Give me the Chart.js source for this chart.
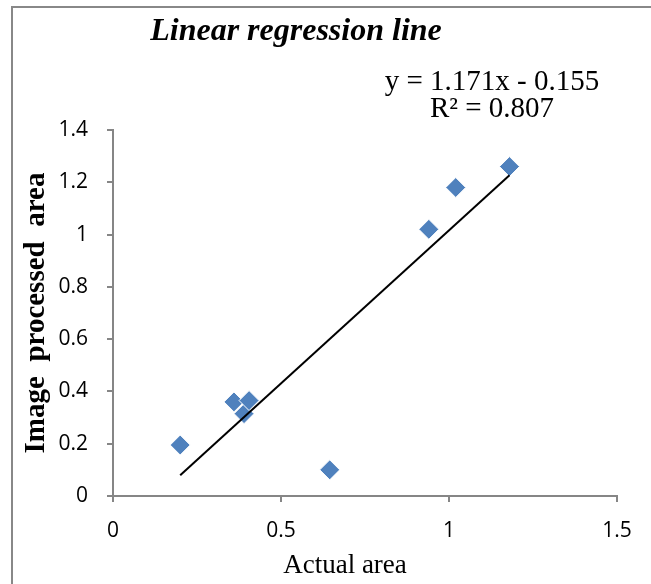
<!DOCTYPE html>
<html>
<head>
<meta charset="utf-8">
<script src="https://cdn.jsdelivr.net/npm/chart.js@4"></script>
<style>
  body { margin: 0; background: #fff; }
</style>
</head>
<body>
<canvas id="chart" width="651" height="584"></canvas>
<script>
// data
const actualArea = [0.2, 0.36, 0.39, 0.405, 0.645, 0.94, 1.02, 1.18];
const processedArea = [0.195, 0.36, 0.315, 0.365, 0.10, 1.02, 1.18, 1.26];

// ends of the drawn trend line
const trendX = [0.2, 1.18];
const trendY = [0.079, 1.227];

const xTicks = [0, 0.5, 1, 1.5];
const yTicks = [0, 0.2, 0.4, 0.6, 0.8, 1, 1.2, 1.4];

const titleText = 'Linear regression line';
const equationText = ['y = 1.171x - 0.155', 'R² = 0.807'];
const xTitle = 'Actual area';
const yTitle = 'Image  processed  area';

const axisGray = '#868686';
const blue = '#4F81BD';

// frame, title, x axis title and equation text
const extras = {
  id: 'extras',
  afterDraw(chart) {
    const ctx = chart.ctx;
    ctx.save();
    ctx.strokeStyle = '#888888';
    ctx.lineWidth = 2;
    ctx.beginPath();
    ctx.moveTo(12, 584);
    ctx.lineTo(12, 7);
    ctx.lineTo(651, 7);
    ctx.stroke();

    ctx.fillStyle = '#000';
    ctx.textAlign = 'center';
    ctx.textBaseline = 'alphabetic';
    ctx.font = 'italic bold 32px "Liberation Serif"';
    ctx.fillText(titleText, 296, 40);

    ctx.font = '29px "Liberation Serif"';
    ctx.fillText(equationText[0], 492, 90);
    ctx.fillText(equationText[1], 492, 117);

    ctx.font = '27px "Liberation Serif"';
    ctx.fillText(xTitle, 345, 573);
    ctx.restore();
  }
};

const fmt = v => String(Math.round(v * 10) / 10);

new Chart(document.getElementById('chart'), {
  type: 'scatter',
  data: {
    datasets: [
      {
        data: trendX.map((x, i) => ({ x: x, y: trendY[i] })),
        showLine: true,
        borderColor: '#000',
        borderWidth: 2,
        pointRadius: 0
      },
      {
        data: actualArea.map((x, i) => ({ x: x, y: processedArea[i] })),
        pointStyle: 'rectRot',
        pointRadius: 10,
        backgroundColor: blue,
        borderColor: '#ffffff',
        borderWidth: 1
      }
    ]
  },
  options: {
    responsive: false,
    animation: false,
    layout: { padding: { top: 130, right: 34, left: 0, bottom: 0 } },
    plugins: {
      legend: { display: false },
      tooltip: { enabled: false }
    },
    scales: {
      x: {
        type: 'linear',
        min: 0,
        max: 1.5,
        afterBuildTicks: s => { s.ticks = xTicks.map(v => ({ value: v })); },
        afterFit: s => { s.height = 88; },
        grid: { drawOnChartArea: false, drawTicks: true, tickLength: 6, color: axisGray, lineWidth: 2 },
        border: { display: true, color: axisGray, width: 2 },
        ticks: {
          color: '#000',
          padding: 16,
          font: { family: '"Open Sans"', size: 21 },
          callback: fmt
        },
        title: { display: false }
      },
      y: {
        type: 'linear',
        min: 0,
        max: 1.4,
        afterBuildTicks: s => { s.ticks = yTicks.map(v => ({ value: v })); },
        afterFit: s => { s.width = 113; },
        grid: { drawOnChartArea: false, drawTicks: true, tickLength: 6, color: axisGray, lineWidth: 2 },
        border: { display: true, color: axisGray, width: 2 },
        ticks: {
          color: '#000',
          padding: 19,
          font: { family: '"Open Sans"', size: 21 },
          callback: fmt
        },
        title: {
          display: true,
          text: yTitle,
          color: '#000',
          font: { family: '"Liberation Serif"', size: 29, weight: 'bold' },
          padding: { top: 19, bottom: 0 }
        }
      }
    }
  },
  plugins: [extras]
});
</script>
</body>
</html>
